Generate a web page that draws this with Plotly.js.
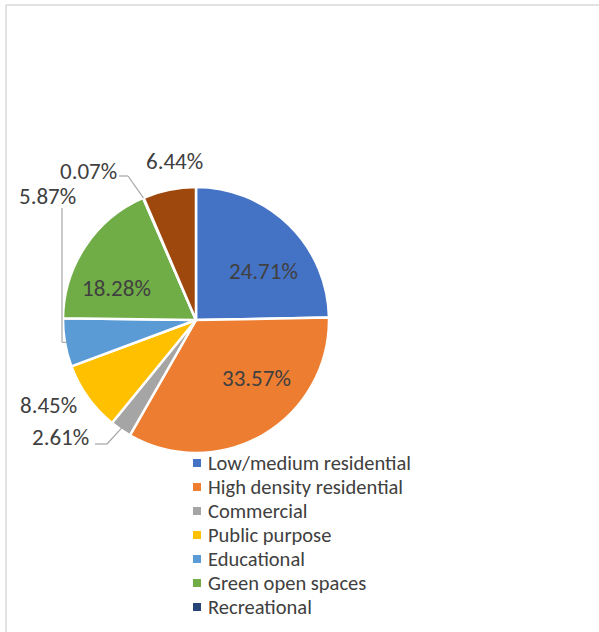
<!DOCTYPE html>
<html>
<head>
<meta charset="utf-8">
<script src="https://cdn.plot.ly/plotly-3.0.1.min.js"></script>
<style>html,body{margin:0;padding:0;background:#fff;}#chart{width:599px;height:632px;}</style>
</head>
<body>
<div id="chart"></div>
<script>
// ---- data ----
const categories = ["Low/medium residential", "High density residential", "Commercial", "Public purpose",
  "Educational", "Green open spaces", "Recreational", "Other"];
const shares = [24.71, 33.57, 2.61, 8.45, 5.87, 18.28, 0.07, 6.44];
const colors = ["#4472C4", "#ED7D31", "#A5A5A5", "#FFC000", "#5B9BD5", "#70AD47", "#264478", "#9E480E"];
const legendCount = 7; // only the first seven legend entries are visible in the reference

// ---- geometry helpers ----
const W = 599, H = 632;
const px = x => x / W;
const py = y => 1 - y / H;
const CX = 196, CY = 320, R = 133;
const FONT = "Carlito, Calibri, Lato, sans-serif";
const TXT = "#404040";

const total = shares.reduce((a, b) => a + b, 0);
function slicePoint(i, r) {
  let cum = 0;
  for (let k = 0; k < i; k++) cum += shares[k];
  const mid = (cum + shares[i] / 2) / total * 2 * Math.PI;
  return [CX + r * Math.sin(mid), CY - r * Math.cos(mid)];
}

const pie = {
  type: "pie",
  labels: categories,
  values: shares,
  sort: false,
  direction: "clockwise",
  rotation: 0,
  marker: {colors: colors, line: {color: "#ffffff", width: 2.5}},
  textinfo: "none",
  hoverinfo: "none",
  showlegend: false,
  domain: {x: [px(CX - R), px(CX + R)], y: [py(CY + R), py(CY - R)]}
};

// data labels (value text placed next to / inside the slices)
const fmt = v => v.toFixed(2) + "%";
const labelPos = [
  {i: 0, x: 263, y: 271},
  {i: 1, x: 256, y: 378},
  {i: 5, x: 116, y: 288},
  {i: 6, x: 88, y: 171},
  {i: 7, x: 174, y: 161},
  {i: 4, x: 47, y: 196},
  {i: 3, x: 48, y: 405},
  {i: 2, x: 60, y: 437}
];
const annotations = labelPos.map(o => ({
  xref: "paper", yref: "paper", x: px(o.x), y: py(o.y), xanchor: "center", yanchor: "middle",
  text: fmt(shares[o.i]), showarrow: false, font: {family: FONT, size: 23, color: TXT}
}));

const LC = "#A6A6A6";
function seg(x0, y0, x1, y1) {
  return {type: "line", xref: "paper", yref: "paper", x0: px(x0), y0: py(y0), x1: px(x1), y1: py(y1),
    line: {color: LC, width: 1.2}};
}
const shapes = [];
// recreational
let p = slicePoint(6, R);
shapes.push(seg(119, 176, 128, 176), seg(128, 176, p[0], p[1]));
// educational
p = slicePoint(4, R - 2);
shapes.push(seg(62, 208, 62, p[1]), seg(62, p[1], p[0], p[1]));
// commercial
p = slicePoint(2, R - 2);
shapes.push(seg(95, 444, 107, 444), seg(107, 444, p[0], p[1]));

// frame
shapes.push({type: "line", xref: "paper", yref: "paper", x0: px(6), y0: py(5), x1: 1, y1: py(5), line: {color: "#D9D9D9", width: 1.5}});
shapes.push({type: "line", xref: "paper", yref: "paper", x0: px(6), y0: py(5), x1: px(6), y1: 0, line: {color: "#D9D9D9", width: 1.5}});

// legend (drawn as shapes + text)
const LX = 197, LY0 = 463, LPITCH = 24, SQ = 8;
for (let i = 0; i < legendCount; i++) {
  const y = LY0 + i * LPITCH;
  shapes.push({type: "rect", xref: "paper", yref: "paper",
    x0: px(LX - SQ / 2), x1: px(LX + SQ / 2), y0: py(y + SQ / 2), y1: py(y - SQ / 2),
    fillcolor: colors[i], line: {width: 0}});
  annotations.push({xref: "paper", yref: "paper", x: px(207), y: py(y), xanchor: "left", yanchor: "middle",
    borderpad: 0,
    text: categories[i], showarrow: false, font: {family: FONT, size: 20.5, color: TXT}});
}

const layout = {
  width: W, height: H,
  margin: {l: 0, r: 0, t: 0, b: 0},
  paper_bgcolor: "#ffffff",
  showlegend: false,
  annotations: annotations,
  shapes: shapes
};

Plotly.newPlot("chart", [pie], layout, {displayModeBar: false, staticPlot: true});
</script>
</body>
</html>
